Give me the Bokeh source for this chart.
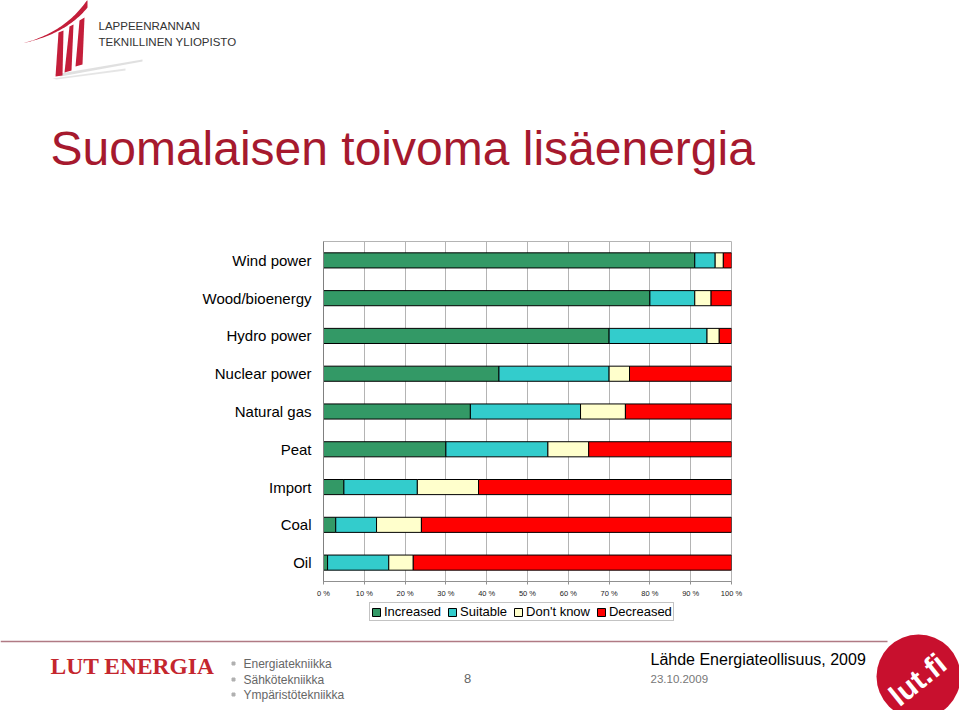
import numpy as np
from bokeh.plotting import figure
from bokeh.models import Range1d, FactorRange, FixedTicker, Legend, LegendItem, ColumnDataSource
from bokeh.embed import file_html
from bokeh.resources import INLINE
from bokeh.core.properties import value

# ---------------- data ----------------
categories = ["Wind power", "Wood/bioenergy", "Hydro power", "Nuclear power",
              "Natural gas", "Peat", "Import", "Coal", "Oil"]
increased = [91, 80, 70, 43, 36, 30, 5, 3, 1]
suitable = [5, 11, 24, 27, 27, 25, 18, 10, 15]
dont_know = [2, 4, 3, 5, 11, 10, 15, 11, 6]
decreased = [2, 5, 3, 25, 26, 35, 62, 76, 78]
series_keys = ["increased", "suitable", "dont_know", "decreased"]
series_names = ["Increased", "Suitable", "Don't know", "Decreased"]
series_colors = ["#339966", "#33CCCC", "#FFFFCC", "#FF0000"]
x_ticks = [0, 10, 20, 30, 40, 50, 60, 70, 80, 90, 100]
x_tick_labels = ["0 %", "10 %", "20 %", "30 %", "40 %", "50 %", "60 %", "70 %", "80 %", "90 %", "100 %"]

title_text = "Suomalaisen toivoma lisäenergia"
uni_lines = ["LAPPEENRANNAN", "TEKNILLINEN YLIOPISTO"]
footer_items = ["Energiatekniikka", "Sähkötekniikka", "Ympäristötekniikka"]
source_text = "Lähde Energiateollisuus, 2009"
date_text = "23.10.2009"
page_no = "8"

W = 959
FONT = "Liberation Sans"
RED = "#a6192e"


def canvas(h, y_top, y_bottom):
    f = figure(width=W, height=h, x_range=Range1d(0, W), y_range=Range1d(y_bottom, y_top),
               output_backend="svg", toolbar_location=None, x_axis_type=None, y_axis_type=None,
               min_border=0, border_fill_color="white", background_fill_color="white")
    f.outline_line_color = None
    return f


# ---------------- header ----------------
head = canvas(200, 0, 200)
t = np.linspace(0, 1, 40)
cx = (1 - t) ** 2 * 21 + 2 * (1 - t) * t * 65 + t ** 2 * 87
cy = (1 - t) ** 2 * 43 + 2 * (1 - t) * t * 33 + t ** 2 * 3
w = 8 * t ** 1.4
head.patch(list(cx) + list(cx[::-1]), list(cy - w / 2) + list((cy + w / 2)[::-1]),
           fill_color="#c41e3a", line_color=None)
head.patch([54, 142, 142, 60], [74, 59, 61, 76], fill_color="#cccccc", fill_alpha=0.6, line_color=None)
head.patch([52, 125, 125, 56], [78, 68, 70, 79], fill_color="#cccccc", fill_alpha=0.5, line_color=None)
head.patch([58, 63, 62, 55], [32, 30, 75, 76], fill_color="#c41e3a", line_color=None)
head.patch([69, 73, 71, 64], [26, 24, 70, 72], fill_color="#c41e3a", line_color=None)
head.patch([79, 84, 82, 75], [20, 17, 64, 66], fill_color="#c41e3a", line_color=None)
head.text(x=[98, 98], y=[25, 41], text=uni_lines, text_font=value(FONT), text_font_size="11.5px",
          text_color="#333333", text_baseline="middle")
head.text(x=[50], y=[148], text=[title_text], text_font=value(FONT), text_font_size="48px",
          text_color=RED, text_baseline="middle")

# ---------------- chart ----------------
src = ColumnDataSource(dict(cat=categories, increased=increased, suitable=suitable,
                            dont_know=dont_know, decreased=decreased))
chart = figure(width=W, height=400, y_range=FactorRange(factors=list(reversed(categories))),
               x_range=Range1d(0, 100), output_backend="svg", toolbar_location=None,
               min_border_left=323, min_border_right=228, min_border_top=41, min_border_bottom=16)
rs = chart.hbar_stack(series_keys, y="cat", height=0.4, fill_color=series_colors,
                      line_color="black", line_width=1, source=src)
chart.xaxis.ticker = FixedTicker(ticks=x_ticks)
chart.xaxis.major_label_overrides = {t_: l_ for t_, l_ in zip(x_ticks, x_tick_labels)}
chart.xaxis.axis_line_color = "#909090"
chart.xaxis.major_tick_line_color = "#909090"
chart.xaxis.major_tick_out = 3
chart.xaxis.major_tick_in = 0
chart.xaxis.minor_tick_line_color = None
chart.xaxis.major_label_text_font = FONT
chart.xaxis.major_label_text_font_size = "7.5px"
chart.xaxis.major_label_text_color = "#222222"
chart.xaxis.major_label_standoff = 4
chart.yaxis.major_tick_line_color = None
chart.yaxis.major_tick_out = 0
chart.yaxis.major_tick_in = 0
chart.yaxis.axis_line_color = "#808080"
chart.yaxis.major_label_text_font = FONT
chart.yaxis.major_label_text_font_size = "15px"
chart.yaxis.major_label_text_color = "#000000"
chart.yaxis.major_label_standoff = 12
chart.ygrid.grid_line_color = None
chart.xgrid.grid_line_color = "#b4b4b4"
chart.outline_line_color = "#b4b4b4"

# ---------------- legend strip ----------------
# helper renderers for the legend swatches, placed far outside the strip's visible area
strip = figure(width=W, height=30, x_range=Range1d(0, 100), y_range=Range1d(0, 1),
               output_backend="svg", toolbar_location=None,
               x_axis_type=None, y_axis_type=None, min_border=0)
strip.outline_line_color = None
swatch_src = ColumnDataSource(dict(y=[-1000], increased=[0], suitable=[0], dont_know=[0], decreased=[0]))
srs = strip.hbar_stack(series_keys, y="y", height=0.4, fill_color=series_colors,
                       line_color="black", line_width=1, source=swatch_src)
legend = Legend(items=[LegendItem(label=n, renderers=[r]) for n, r in zip(series_names, srs)],
                orientation="horizontal", location=(369, 9), glyph_width=10, glyph_height=10,
                label_standoff=3, spacing=6, padding=1, margin=0, label_height=12,
                label_text_font=FONT, label_text_font_size="13px", label_text_color="#000000",
                border_line_color="#888888", background_fill_color="white")
strip.add_layout(legend)

# ---------------- footer ----------------
foot = canvas(80, 630, 710)
foot.line(x=[0, 887], y=[641, 641], line_color="#b07a84", line_width=1.5)
foot.text(x=[50], y=[665], text=["LUT ENERGIA"], text_font=value("Liberation Serif"),
          text_font_style="bold", text_font_size="23.5px", text_color="#c4262e",
          text_baseline="middle")
foot.scatter(x=[233, 233, 233], y=[663, 679, 694], marker="square", size=3, color="#b0b0b0")
foot.text(x=[243, 243, 243], y=[663, 679, 694], text=footer_items, text_font=value(FONT),
          text_font_size="12px", text_color="#666666", text_baseline="middle")
foot.text(x=[467], y=[678], text=[page_no], text_font=value(FONT), text_font_size="13px",
          text_color="#666666", text_baseline="middle", text_align="center")
foot.text(x=[650], y=[659], text=[source_text], text_font=value(FONT), text_font_size="16px",
          text_color="#000000", text_baseline="middle")
foot.text(x=[650], y=[678], text=[date_text], text_font=value(FONT), text_font_size="11.5px",
          text_color="#777777", text_baseline="middle")
foot.circle(x=[918], y=[676], radius=42, fill_color="#c8102e", line_color=None)
foot.text(x=[917], y=[679], text=["lut.fi"], text_font=value(FONT), text_font_style="bold",
          text_font_size="30px", text_color="white", text_align="center", text_baseline="middle",
          angle=0.68)

open("out.html", "w").write(file_html([head, chart, strip, foot], INLINE))
